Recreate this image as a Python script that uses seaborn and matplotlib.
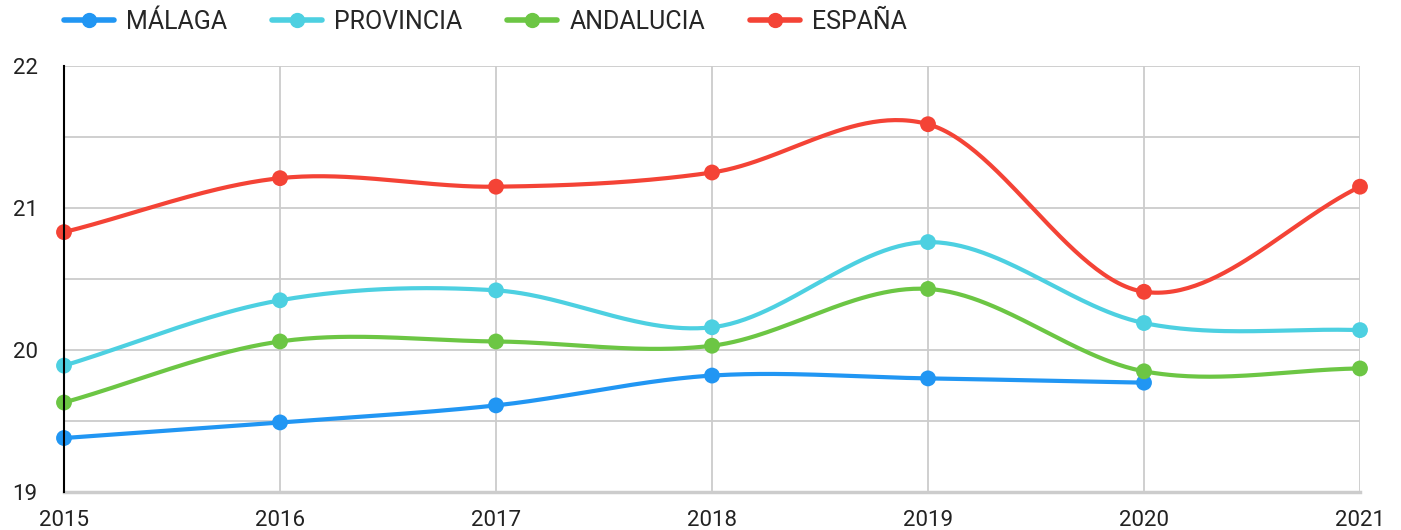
import numpy as np
import pandas as pd
import matplotlib
matplotlib.use("Agg")
import matplotlib.pyplot as plt
import seaborn as sns
from matplotlib.lines import Line2D
from matplotlib.ticker import MultipleLocator

# data
years = [2015, 2016, 2017, 2018, 2019, 2020, 2021]
malaga = [19.38, 19.49, 19.61, 19.82, 19.80, 19.77, np.nan]
provincia = [19.89, 20.35, 20.42, 20.16, 20.76, 20.19, 20.14]
andalucia = [19.63, 20.06, 20.06, 20.03, 20.43, 19.85, 19.87]
espana = [20.83, 21.21, 21.15, 21.25, 21.59, 20.41, 21.15]

series_names = ["MÁLAGA", "PROVINCIA", "ANDALUCIA", "ESPAÑA"]
colors = ["#2196F3", "#4DD0E1", "#6CC644", "#F44336"]

df = pd.DataFrame({"year": years, "MÁLAGA": malaga, "PROVINCIA": provincia,
                   "ANDALUCIA": andalucia, "ESPAÑA": espana})
long_df = df.melt(id_vars="year", var_name="serie", value_name="valor").dropna()


def smooth(x, y, n=60):
    # catmull-rom style curve through the points (like curveType 'function')
    x = np.asarray(x, float)
    y = np.asarray(y, float)
    m = np.zeros_like(y)
    m[1:-1] = (y[2:] - y[:-2]) / 2
    m[0] = y[1] - y[0]
    m[-1] = y[-1] - y[-2]
    xs, ys = [], []
    for i in range(len(x) - 1):
        t = np.linspace(0, 1, n)
        h00 = 2 * t**3 - 3 * t**2 + 1
        h10 = t**3 - 2 * t**2 + t
        h01 = -2 * t**3 + 3 * t**2
        h11 = t**3 - t**2
        xs.append(x[i] + t * (x[i + 1] - x[i]))
        ys.append(h00 * y[i] + h10 * m[i] + h01 * y[i + 1] + h11 * m[i + 1])
    return np.concatenate(xs), np.concatenate(ys)


sns.set_style("white")
plt.rcParams["font.family"] = ["Roboto", "DejaVu Sans"]

fig = plt.figure(figsize=(14.01, 5.30), dpi=100)
ax = fig.add_axes([64 / 1401, 1 - 492 / 530, (1360 - 64) / 1401, (492 - 66) / 530])

for name, col in zip(series_names, colors):
    sub = long_df[long_df["serie"] == name]
    sx, sy = smooth(sub["year"], sub["valor"])
    sns.lineplot(x=sx, y=sy, ax=ax, color=col, lw=3, sort=False, zorder=3)
    sns.scatterplot(data=sub, x="year", y="valor", ax=ax, color=col, s=130,
                    edgecolor="none", zorder=4, clip_on=False)

ax.set_xlim(2015, 2021)
ax.set_ylim(19, 22)
ax.set_xticks(years)
ax.set_xticklabels([str(y) for y in years])
ax.yaxis.set_major_locator(MultipleLocator(1))
ax.yaxis.set_minor_locator(MultipleLocator(0.5))
ax.grid(True, which="both", color="#cccccc", lw=1.3)
ax.set_axisbelow(True)
ax.tick_params(axis="both", which="both", length=0, labelsize=16, colors="#222222")
ax.tick_params(axis="y", pad=19)
ax.tick_params(axis="x", pad=13)
ax.set_xlabel("")
ax.set_ylabel("")
for s in ["top", "right"]:
    ax.spines[s].set_visible(False)
ax.spines["left"].set_color("black")
ax.spines["left"].set_linewidth(1.5)
ax.spines["left"].set_zorder(5)
ax.spines["bottom"].set_color("#cccccc")
ax.spines["bottom"].set_linewidth(2.5)

handles = [Line2D([0], [0], color=c, lw=4, marker="o", markersize=10) for c in colors]
fig.legend(handles, series_names, loc="center left", bbox_to_anchor=(64 / 1401, 1 - 22 / 530),
           ncol=4, frameon=False, fontsize=18, handlelength=2.0, handletextpad=0.48,
           columnspacing=1.8, borderpad=0, borderaxespad=0)

fig.savefig("out.png", dpi=100)
